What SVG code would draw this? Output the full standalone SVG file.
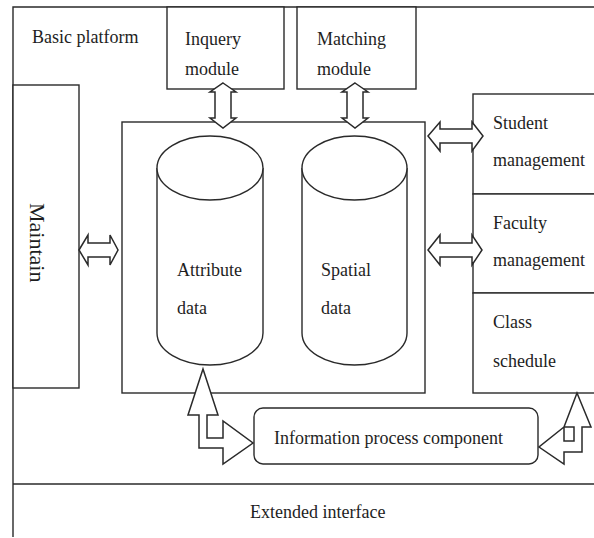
<svg xmlns="http://www.w3.org/2000/svg" width="594" height="538" viewBox="0 0 594 538">
<style>
.ln{fill:none;stroke:#2a2a2a;stroke-width:1.4}
.bx{fill:#fff;stroke:#2a2a2a;stroke-width:1.4}
.ar{fill:#fff;stroke:#2a2a2a;stroke-width:1.5;stroke-linejoin:miter}
text{font-family:"Liberation Serif","Times New Roman",serif;font-size:18px;fill:#1e1e1e}
</style>
<rect width="594" height="538" fill="#fff"/>
<g id="platform">
<path class="ln" d="M594,7 H13 V537"/>
<text x="32" y="43">Basic platform</text>
</g>
<g id="extended">
<path class="ln" d="M13,484 H594"/>
<text x="250" y="518">Extended interface</text>
</g>
<g id="inquery">
<rect class="bx" x="167" y="7" width="117" height="82"/>
<text x="185" y="45">Inquery</text>
<text x="185" y="75">module</text>
</g>
<g id="matching">
<rect class="bx" x="297" y="7" width="119" height="82"/>
<text x="317" y="45">Matching</text>
<text x="317" y="75">module</text>
</g>
<g id="maintain">
<rect class="bx" x="13" y="85" width="66" height="303"/>
<text transform="translate(30,203) rotate(90)" style="font-size:22px">Maintain</text>
</g>
<g id="core">
<rect class="bx" x="122" y="122" width="303" height="271"/>
</g>
<g id="attribute">
<path class="bx" d="M157,168 V333 A53,32 0 0 0 263,333 V168"/>
<ellipse class="bx" cx="210" cy="168" rx="53" ry="32"/>
<text x="177" y="276">Attribute</text>
<text x="177" y="314">data</text>
</g>
<g id="spatial">
<path class="bx" d="M302,168 V333 A52.5,32 0 0 0 407,333 V168"/>
<ellipse class="bx" cx="354.5" cy="168" rx="52.5" ry="32"/>
<text x="321" y="276">Spatial</text>
<text x="321" y="314">data</text>
</g>
<g id="student">
<rect class="bx" x="473" y="94" width="125" height="100"/>
<text x="493" y="129">Student</text>
<text x="493" y="166">management</text>
</g>
<g id="faculty">
<rect class="bx" x="473" y="194" width="125" height="99"/>
<text x="493" y="229">Faculty</text>
<text x="493" y="266">management</text>
</g>
<g id="class">
<rect class="bx" x="473" y="293" width="125" height="100"/>
<text x="493" y="328">Class</text>
<text x="493" y="367">schedule</text>
</g>
<g id="process">
<rect class="bx" x="254" y="408" width="284" height="56" rx="9"/>
<text x="274" y="444">Information process component</text>
</g>
<g id="connectors">
<polygon class="ar" points="223,83 236,92 231,92 231,118 236,118 223,128 210,118 215,118 215,92 210,92"/>
<polygon class="ar" points="355,83 368,92 363,92 363,118 368,118 355,128 342,118 347,118 347,92 342,92"/>
<polygon class="ar" points="79,250 88,235 88,243 110,243 110,235 118,250 110,265 110,257 88,257 88,265"/>
<polygon class="ar" points="428,136 440,122 440,129 472,129 472,122 483,136 472,151 472,143 440,143 440,151"/>
<polygon class="ar" points="428,250 440,235 440,243 472,243 472,235 482,250 472,265 472,257 440,257 440,265"/>
<polygon class="ar" points="203,369 218,415 207,415 207,438 223,438 223,421 253,443 223,464 223,448 199,448 199,415 188,415"/>
<polygon class="ar" points="577,393 591,427 582,427 582,452 564,452 564,464 539,447 564,427 564,441 574,441 574,427 564,427"/>
</g>
</svg>
